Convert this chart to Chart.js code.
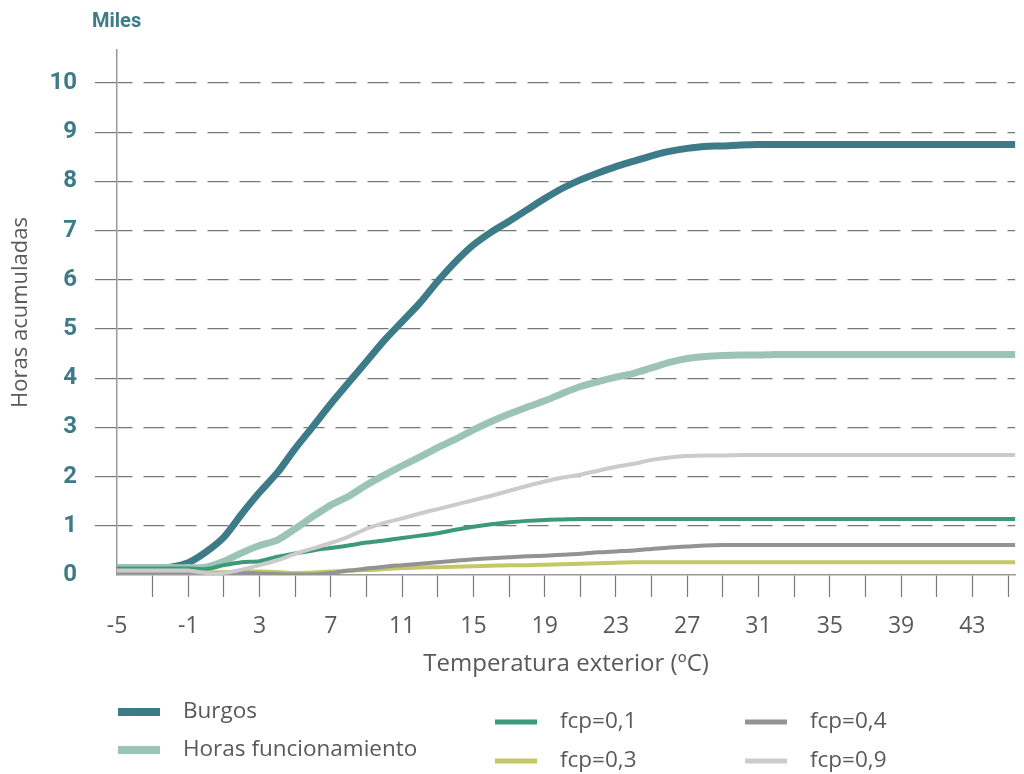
<!DOCTYPE html>
<html lang="es">
<head>
<meta charset="UTF-8">
<script src="https://cdn.jsdelivr.net/npm/chart.js"></script>
<title>Horas acumuladas - Burgos</title>
<style>
  body { margin: 0; background: #fff; }
  #wrap { width: 1024px; height: 774px; }
</style>
</head>
<body>
<div id="wrap"><canvas id="horasChart" width="1024" height="774"></canvas></div>

<script>
// temperatura exterior, un punto por grado
const temps = [-5, -4, -3, -2, -1, 0, 1, 2, 3, 4, 5, 6, 7, 8, 9, 10, 11, 12, 13, 14, 15, 16, 17, 18, 19, 20,
  21, 22, 23, 24, 25, 26, 27, 28, 29, 30, 31, 32, 33, 34, 35, 36, 37, 38, 39, 40, 41, 42, 43, 44, 45, 46];

// horas acumuladas (miles)
const burgos = [0.13, 0.13, 0.13, 0.16, 0.25, 0.47, 0.77, 1.24, 1.68, 2.08, 2.57, 3.02, 3.48, 3.91, 4.34, 4.77,
  5.15, 5.53, 5.97, 6.37, 6.71, 6.97, 7.19, 7.42, 7.65, 7.86, 8.03, 8.17, 8.30, 8.41, 8.52, 8.61, 8.67, 8.71,
  8.72, 8.74, 8.75, 8.75, 8.75, 8.75, 8.75, 8.75, 8.75, 8.75, 8.75, 8.75, 8.75, 8.75, 8.75, 8.75, 8.75, 8.75];
const horasFunc = [0.15, 0.15, 0.15, 0.15, 0.15, 0.16, 0.28, 0.45, 0.60, 0.71, 0.94, 1.19, 1.42, 1.60, 1.83, 2.03,
  2.22, 2.40, 2.59, 2.76, 2.95, 3.12, 3.27, 3.41, 3.54, 3.69, 3.83, 3.93, 4.02, 4.10, 4.21, 4.32, 4.40, 4.44,
  4.46, 4.47, 4.47, 4.48, 4.48, 4.48, 4.48, 4.48, 4.48, 4.48, 4.48, 4.48, 4.48, 4.48, 4.48, 4.48, 4.48, 4.48];
const fcp01 = [0.13, 0.13, 0.13, 0.13, 0.13, 0.12, 0.20, 0.26, 0.28, 0.37, 0.44, 0.50, 0.55, 0.60, 0.66, 0.70,
  0.75, 0.80, 0.85, 0.92, 0.98, 1.03, 1.07, 1.10, 1.12, 1.13, 1.14, 1.14, 1.14, 1.14, 1.14, 1.14, 1.14, 1.14,
  1.14, 1.14, 1.14, 1.14, 1.14, 1.14, 1.14, 1.14, 1.14, 1.14, 1.14, 1.14, 1.14, 1.14, 1.14, 1.14, 1.14, 1.14];
const fcp03 = [0.06, 0.06, 0.06, 0.06, 0.06, 0.05, 0.06, 0.07, 0.07, 0.06, 0.04, 0.05, 0.07, 0.09, 0.10, 0.12,
  0.14, 0.15, 0.16, 0.17, 0.18, 0.19, 0.20, 0.20, 0.21, 0.22, 0.23, 0.24, 0.25, 0.26, 0.26, 0.26, 0.26, 0.26,
  0.26, 0.26, 0.26, 0.26, 0.26, 0.26, 0.26, 0.26, 0.26, 0.26, 0.26, 0.26, 0.26, 0.26, 0.26, 0.26, 0.26, 0.26];
const fcp04 = [0.06, 0.06, 0.06, 0.06, 0.06, 0.05, 0.04, 0.04, 0.03, 0.02, 0.01, 0.01, 0.04, 0.09, 0.13, 0.17,
  0.20, 0.23, 0.26, 0.29, 0.32, 0.34, 0.36, 0.38, 0.39, 0.41, 0.43, 0.46, 0.48, 0.50, 0.53, 0.56, 0.58, 0.60,
  0.61, 0.61, 0.61, 0.61, 0.61, 0.61, 0.61, 0.61, 0.61, 0.61, 0.61, 0.61, 0.61, 0.61, 0.61, 0.61, 0.61, 0.61];
const fcp09 = [0.09, 0.09, 0.09, 0.09, 0.09, 0.04, 0.04, 0.11, 0.20, 0.30, 0.43, 0.54, 0.65, 0.78, 0.94, 1.06,
  1.15, 1.25, 1.34, 1.43, 1.52, 1.61, 1.71, 1.81, 1.90, 1.98, 2.04, 2.12, 2.20, 2.26, 2.34, 2.39, 2.42, 2.43,
  2.43, 2.44, 2.44, 2.44, 2.44, 2.44, 2.44, 2.44, 2.44, 2.44, 2.44, 2.44, 2.44, 2.44, 2.44, 2.44, 2.44, 2.44];

const seriesNames = ['Burgos', 'Horas funcionamiento', 'fcp=0,1', 'fcp=0,3', 'fcp=0,4', 'fcp=0,9'];

const yTicks = [0, 1, 2, 3, 4, 5, 6, 7, 8, 9, 10];
const xTicks = [-5, -3, -1, 1, 3, 5, 7, 9, 11, 13, 15, 17, 19, 21, 23, 25, 27, 29, 31, 33, 35, 37, 39, 41, 43, 45];
const xTickLabels = [-5, -1, 3, 7, 11, 15, 19, 23, 27, 31, 35, 39, 43];

const TEAL = '#3e7b88';
const TEXT = '#58595b';
const FONT = '"Open Sans", Roboto, sans-serif';
const BOLD_FONT = 'Roboto, "Open Sans", sans-serif';

const styles = [
  {color: '#3e7b88', width: 7},
  {color: '#9bc4b6', width: 7},
  {color: '#3d9a78', width: 4},
  {color: '#c2c964', width: 4},
  {color: '#939396', width: 4},
  {color: '#cbcbcb', width: 4}
];
const allSeries = [burgos, horasFunc, fcp01, fcp03, fcp04, fcp09];

// where each legend entry sits (swatch start, middle line)
const legendSlots = [
  {x: 118, y: 712}, {x: 118, y: 750},
  {x: 495, y: 722}, {x: 495, y: 761},
  {x: 745, y: 722}, {x: 745, y: 761}
];

const extrasPlugin = {
  id: 'extras',
  afterDraw(chart) {
    const ctx = chart.ctx;
    ctx.save();
    // "Miles" above the y axis
    ctx.fillStyle = TEAL;
    ctx.font = 'bold 20px ' + BOLD_FONT;
    ctx.textBaseline = 'middle';
    ctx.textAlign = 'left';
    ctx.fillText('Miles', 92, 22);

    // legend
    ctx.font = '22.5px ' + FONT;
    chart.data.datasets.forEach((ds, i) => {
      const s = legendSlots[i];
      ctx.fillStyle = ds.borderColor;
      const h = ds.borderWidth + 1;
      ctx.fillRect(s.x, s.y - h / 2, 42, h);
      ctx.fillStyle = TEXT;
      ctx.fillText(ds.label, s.x + 65, s.y);
    });
    ctx.restore();
  }
};

const datasets = seriesNames.map((name, i) => ({
  label: name,
  data: temps.map((t, j) => ({x: t, y: allSeries[i][j]})),
  borderColor: styles[i].color,
  backgroundColor: styles[i].color,
  borderWidth: styles[i].width,
  pointRadius: 0,
  tension: 0.25,
  fill: false,
  order: seriesNames.length - i
}));

new Chart(document.getElementById('horasChart'), {
  type: 'line',
  data: { datasets: datasets },
  options: {
    responsive: false,
    animation: false,
    layout: { padding: { left: 0, right: 0, top: 50, bottom: 95 } },
    plugins: {
      legend: { display: false },
      tooltip: { enabled: false }
    },
    scales: {
      x: {
        type: 'linear',
        min: -5,
        max: 45.4,
        afterBuildTicks: (scale) => { scale.ticks = xTicks.map(v => ({value: v})); },
        afterFit: (scale) => { scale.height = 104; },
        ticks: {
          autoSkip: false,
          maxRotation: 0,
          padding: 16,
          color: TEXT,
          font: { family: FONT, size: 23 },
          callback: (v) => xTickLabels.includes(v) ? String(v) : ''
        },
        grid: {
          drawOnChartArea: false,
          drawTicks: true,
          tickLength: 22,
          tickWidth: 1.2,
          tickColor: (c) => (c.tick && c.tick.value === -5) ? 'rgba(0,0,0,0)' : '#7a7a7a'
        },
        border: { display: true, color: '#9a9a9a', width: 1.5 },
        title: {
          display: true,
          text: 'Temperatura exterior (ºC)',
          color: TEXT,
          font: { family: FONT, size: 24 },
          padding: { top: 0, bottom: 0 }
        }
      },
      y: {
        min: 0,
        max: 10.67,
        afterBuildTicks: (scale) => { scale.ticks = yTicks.map(v => ({value: v})); },
        afterFit: (scale) => { scale.width = 117; },
        ticks: {
          padding: 18,
          color: TEAL,
          font: { family: BOLD_FONT, size: 24, weight: 'bold' },
          callback: (v) => String(v)
        },
        grid: {
          color: (c) => (c.tick && c.tick.value === 0) ? 'rgba(0,0,0,0)' : '#777777',
          lineWidth: 1.2,
          tickLength: 22,
          tickWidth: 1.2,
          tickBorderDash: [],
          tickColor: (c) => (c.tick && c.tick.value === 0) ? 'rgba(0,0,0,0)' : '#777777'
        },
        border: { display: true, color: '#9a9a9a', width: 1.5, dash: [21, 11], dashOffset: 6 },
        title: {
          display: true,
          text: 'Horas acumuladas',
          color: TEXT,
          font: { family: FONT, size: 22 },
          padding: { top: 8, bottom: 0 }
        }
      }
    }
  },
  plugins: [extrasPlugin]
});
</script>
</body>
</html>
